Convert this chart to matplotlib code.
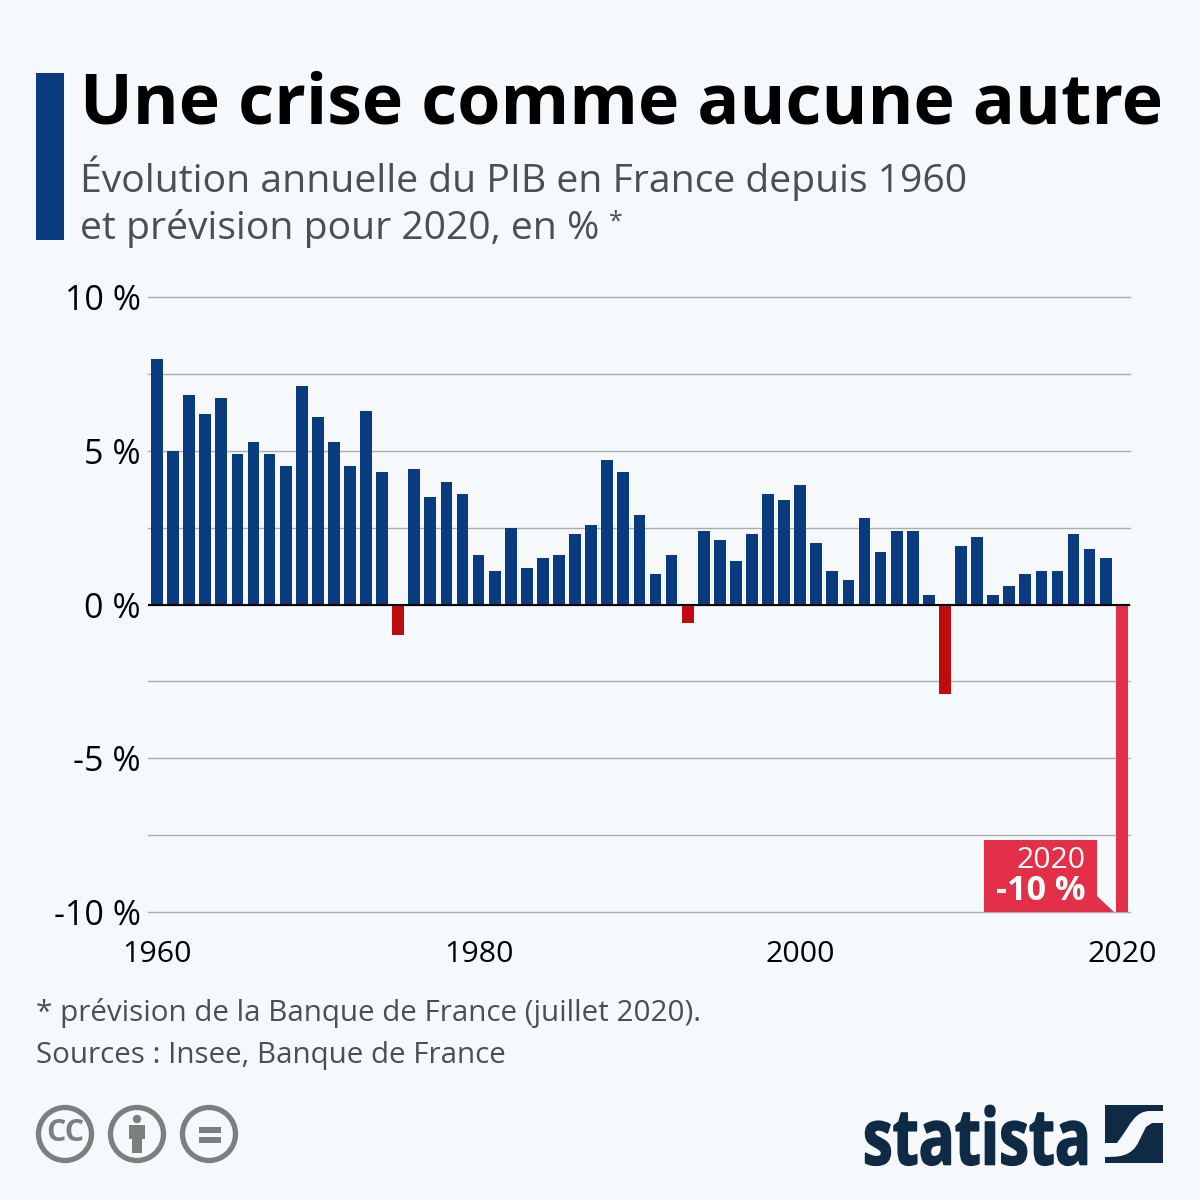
import matplotlib
matplotlib.use("Agg")
import matplotlib.pyplot as plt
import numpy as np
from matplotlib.patches import Rectangle, Circle, Polygon, PathPatch
from matplotlib.path import Path
from matplotlib.patheffects import AbstractPathEffect
from matplotlib.transforms import Affine2D

# data
years = list(range(1960, 2021))
gdp = [8.0, 5.0, 6.8, 6.2, 6.7, 4.9, 5.3, 4.9, 4.5, 7.1,
       6.1, 5.3, 4.5, 6.3, 4.3, -1.0, 4.4, 3.5, 4.0, 3.6,
       1.6, 1.1, 2.5, 1.2, 1.5, 1.6, 2.3, 2.6, 4.7, 4.3,
       2.9, 1.0, 1.6, -0.6, 2.4, 2.1, 1.4, 2.3, 3.6, 3.4,
       3.9, 2.0, 1.1, 0.8, 2.8, 1.7, 2.4, 2.4, 0.3, -2.9,
       1.9, 2.2, 0.3, 0.6, 1.0, 1.1, 1.1, 2.3, 1.8, 1.5, -10.0]
y_ticks = [10, 7.5, 5, 2.5, 0, -2.5, -5, -7.5, -10]
y_labels = ["10 %", "", "5 %", "", "0 %", "", "-5 %", "", "-10 %"]
x_ticks = [1960, 1980, 2000, 2020]

BG = "#f5f9fc"
BLUE = "#0a3b7f"
RED = "#c00c0c"
FORECAST = "#e32f48"
GREY = "#7b807e"
NAVY = "#0f2a44"
TXT = "#4b4f51"

plt.rcParams["font.family"] = ["Open Sans", "DejaVu Sans"]


# squeezes the glyphs sideways, the logo lettering is condensed
class Squeeze(AbstractPathEffect):
    def __init__(self, pivot, sx, stroke):
        super().__init__()
        self.pivot = pivot
        self.sx = sx
        self.stroke = stroke

    def draw_path(self, renderer, gc, tpath, affine, rgbFace=None):
        a = affine + Affine2D().translate(-self.pivot, 0).scale(self.sx, 1).translate(self.pivot, 0)
        gc0 = renderer.new_gc()
        gc0.copy_properties(gc)
        gc0.set_foreground(rgbFace)
        gc0.set_linewidth(self.stroke)
        renderer.draw_path(gc0, tpath, a, rgbFace)
        gc0.restore()


fig = plt.figure(figsize=(12, 12), dpi=100, facecolor=BG)

# chart area, 148-1130 px wide, 297-912 px high
ax = fig.add_axes([148 / 1200, 1 - 912 / 1200, 981.5 / 1200, 615 / 1200], facecolor="none")
colors = []
for y, v in zip(years, gdp):
    if y == 2020:
        colors.append(FORECAST)
    elif v < 0:
        colors.append(RED)
    else:
        colors.append(BLUE)
ax.bar(years, gdp, width=0.73, color=colors, zorder=3)
ax.axhline(0, color="black", lw=1.5, zorder=4)
ax.set_xlim(1959.44, 2020.48)
ax.set_ylim(-10, 10)
ax.set_yticks(y_ticks)
ax.set_yticklabels(y_labels, fontsize=24.5, color="black")
ax.set_xticks(x_ticks)
ax.set_xticklabels([str(x) for x in x_ticks], fontsize=21.9, color="black")
ax.tick_params(axis="both", length=0)
ax.tick_params(axis="y", pad=5)
ax.tick_params(axis="x", pad=20)
ax.grid(axis="y", color="#a9adb0", lw=1, zorder=1)
for line in ax.get_ygridlines():
    line.set_clip_on(False)
for lab in ax.get_yticklabels():
    lab.set_y(lab.get_position()[1])
for s in ax.spines.values():
    s.set_visible(False)

# overlay in pixel coordinates for title, callout, icons and logo
ov = fig.add_axes([0, 0, 1, 1], facecolor="none")
ov.set_xlim(0, 1200)
ov.set_ylim(1200, 0)
ov.axis("off")

ov.add_patch(Rectangle((36, 73), 28, 167, color=BLUE, lw=0))
ov.text(80, 106, "Une crise comme aucune autre", fontsize=50.3, fontweight="bold",
        color="black", va="center", ha="left")
ov.text(80, 178, "Évolution annuelle du PIB en France depuis 1960", fontsize=28.2,
        color=TXT, va="center", ha="left")
ov.text(80, 229, "et prévision pour 2020, en %", fontsize=28.2,
        color=TXT, va="center", ha="left")
ov.text(609, 222, "*", fontsize=18, color=TXT, va="center", ha="left")

# callout
ov.add_patch(Polygon([(984, 840), (1097, 840), (1097, 896), (1114, 912), (984, 912)],
                     closed=True, color=FORECAST, lw=0))
ov.text(1085, 861, "2020", fontsize=21.7, color="white", ha="right", va="center")
ov.text(1085, 891, "-10 %", fontsize=24.6, fontweight="bold", color="white", ha="right", va="center")

# footer
ov.text(36, 1013, "* prévision de la Banque de France (juillet 2020).", fontsize=21.3,
        color=TXT, va="center", ha="left")
ov.text(36, 1055, "Sources : Insee, Banque de France", fontsize=21.3,
        color=TXT, va="center", ha="left")

# licence icons
for cx in [65, 137, 209]:
    ov.add_patch(Circle((cx, 1134), 26.5, fc="none", ec=GREY, lw=3.8))
ov.text(65, 1133, "CC", fontsize=22, fontweight="bold", color=GREY, ha="center", va="center")
ov.add_patch(Circle((137, 1119), 4.2, color=GREY, lw=0))
ov.add_patch(Polygon([(129, 1125), (145, 1125), (145, 1139), (142, 1139), (142, 1153),
                      (132, 1153), (132, 1139), (129, 1139)], closed=True, color=GREY, lw=0))
ov.add_patch(Rectangle((199, 1127), 22, 6, color=GREY, lw=0))
ov.add_patch(Rectangle((199, 1137), 22, 5.5, color=GREY, lw=0))

# statista logo
logo = ov.text(1091, 1144, "statista", fontsize=56, fontweight="bold", color=NAVY, ha="right", va="center")
logo.set_path_effects([Squeeze(1091, 0.77, 1.2)])
up = Path([(1105, 1105), (1163, 1105), (1163, 1111), (1150, 1111), (1135, 1111), (1130, 1125),
           (1122, 1136), (1117, 1143), (1105, 1143), (1105, 1105)],
          [Path.MOVETO, Path.LINETO, Path.LINETO, Path.LINETO, Path.CURVE4, Path.CURVE4, Path.CURVE4,
           Path.LINETO, Path.LINETO, Path.LINETO])
low = Path([(1163, 1123), (1163, 1163), (1105, 1163), (1105, 1157), (1118, 1157), (1132, 1157),
            (1139, 1141), (1146, 1127), (1152, 1123), (1163, 1123)],
           [Path.MOVETO, Path.LINETO, Path.LINETO, Path.LINETO, Path.CURVE4, Path.CURVE4, Path.CURVE4,
            Path.LINETO, Path.LINETO, Path.LINETO])
ov.add_patch(PathPatch(up, fc=NAVY, ec="none"))
ov.add_patch(PathPatch(low, fc=NAVY, ec="none"))

fig.savefig("out.png", dpi=100, facecolor=BG)
